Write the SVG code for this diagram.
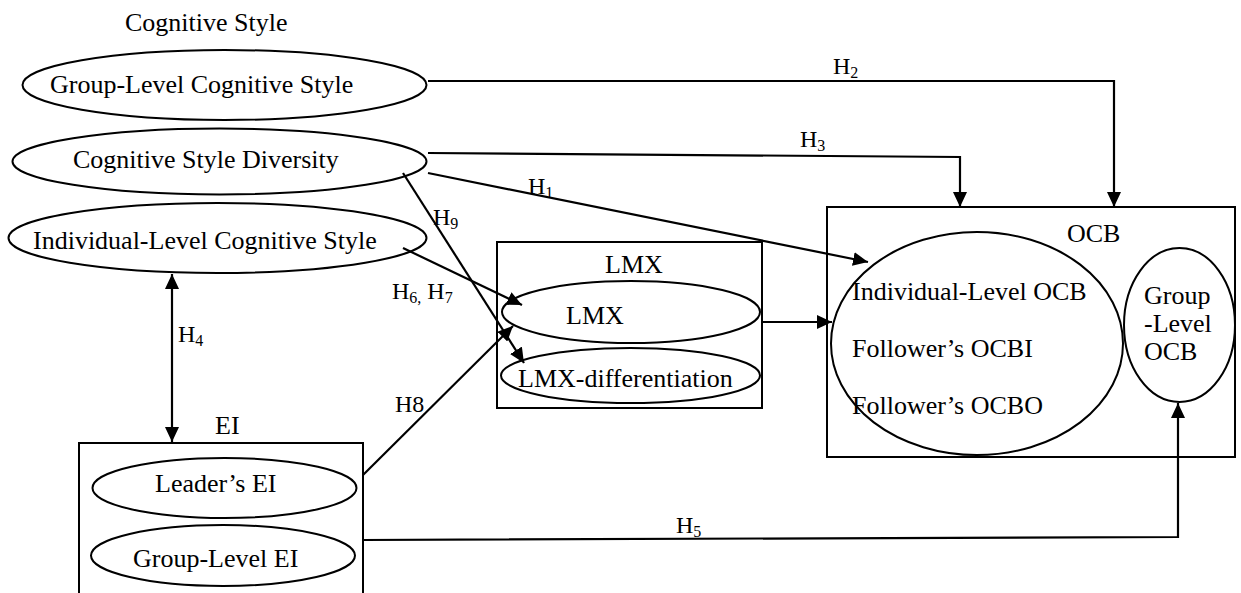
<svg xmlns="http://www.w3.org/2000/svg" width="1241" height="593" viewBox="0 0 1241 593">
  <style>
    .shape { fill: none; stroke: #000; stroke-width: 2; }
    .conn { fill: none; stroke: #000; stroke-width: 2.2; }
    text { font-family: "Liberation Serif", "Times New Roman", serif; font-size: 26px; fill: #000; }
    .lbl { font-size: 24px; }
    .sub { font-size: 16px; }
  </style>
  <defs>
    <marker id="arrow" markerUnits="userSpaceOnUse" markerWidth="16" markerHeight="14" refX="15" refY="7" orient="auto-start-reverse">
      <path d="M0,0 L15,7 L0,14 z" fill="#000"/>
    </marker>
  </defs>
  <rect width="1241" height="593" fill="#fff"/>

  <text x="125" y="31">Cognitive Style</text>

  <g id="group-level-cognitive-style">
    <ellipse class="shape" cx="224.5" cy="85" rx="202" ry="35"/>
    <text x="50" y="93">Group-Level Cognitive Style</text>
  </g>
  <g id="cognitive-style-diversity">
    <ellipse class="shape" cx="219.5" cy="161.5" rx="207" ry="33"/>
    <text x="73" y="168">Cognitive Style Diversity</text>
  </g>
  <g id="individual-level-cognitive-style">
    <ellipse class="shape" cx="217.5" cy="238" rx="209" ry="35"/>
    <text x="33" y="249">Individual-Level Cognitive Style</text>
  </g>

  <g id="ei">
    <polyline class="shape" points="79,593 79,443 363,443 363,593"/>
    <text x="215" y="434">EI</text>
    <ellipse class="shape" cx="224.5" cy="488" rx="132" ry="30"/>
    <text x="155" y="492">Leader’s EI</text>
    <ellipse class="shape" cx="223" cy="555.5" rx="132" ry="30.5"/>
    <text x="133" y="567">Group-Level EI</text>
  </g>

  <g id="lmx">
    <rect class="shape" x="497" y="242" width="265" height="166"/>
    <text x="605" y="273">LMX</text>
    <ellipse class="shape" cx="631" cy="312" rx="129" ry="31"/>
    <text x="566" y="324">LMX</text>
    <ellipse class="shape" cx="630.5" cy="375.5" rx="129.5" ry="27.5"/>
    <text x="518" y="387">LMX-differentiation</text>
  </g>

  <g id="ocb">
    <rect class="shape" x="827" y="207" width="408" height="250"/>
    <text x="1067" y="242">OCB</text>
    <ellipse class="shape" cx="977" cy="343.5" rx="146" ry="111.5"/>
    <text x="852" y="300">Individual-Level OCB</text>
    <text x="852" y="357">Follower’s OCBI</text>
    <text x="852" y="414">Follower’s OCBO</text>
    <ellipse class="shape" cx="1179.5" cy="325" rx="55.5" ry="77"/>
    <text x="1144" y="304" font-size="25">Group</text>
    <text x="1144" y="332" font-size="25">-Level</text>
    <text x="1144" y="360" font-size="25">OCB</text>
  </g>

  <g id="connectors">
    <!-- H2: group-level cognitive style to OCB -->
    <polyline class="conn" points="428,81 1114,81 1114,207" marker-end="url(#arrow)"/>
    <!-- H3: diversity to OCB -->
    <polyline class="conn" points="428,153 960,157 960,207" marker-end="url(#arrow)"/>
    <!-- H1: diversity to individual-level OCB -->
    <line class="conn" x1="428" y1="173" x2="868" y2="262" marker-end="url(#arrow)"/>
    <!-- H9: diversity to LMX-differentiation -->
    <line class="conn" x1="403" y1="173" x2="524" y2="363" marker-end="url(#arrow)"/>
    <!-- H6, H7: individual cognitive style to LMX -->
    <line class="conn" x1="403" y1="248" x2="522" y2="305" marker-end="url(#arrow)"/>
    <!-- H4: cognitive style and EI -->
    <line class="conn" x1="172" y1="274" x2="172" y2="442" marker-start="url(#arrow)" marker-end="url(#arrow)"/>
    <!-- H8: EI to LMX -->
    <line class="conn" x1="363" y1="475" x2="513" y2="326" marker-end="url(#arrow)"/>
    <!-- LMX to OCB -->
    <line class="conn" x1="762" y1="322" x2="832" y2="322" marker-end="url(#arrow)"/>
    <!-- H5: group-level EI to group-level OCB -->
    <polyline class="conn" points="363,540 1178,537 1178,403" marker-end="url(#arrow)"/>

    <text class="lbl" x="833" y="74">H<tspan class="sub" dy="4">2</tspan></text>
    <text class="lbl" x="800" y="147">H<tspan class="sub" dy="4">3</tspan></text>
    <text class="lbl" x="528" y="194">H<tspan class="sub" dy="4">1</tspan></text>
    <text class="lbl" x="433" y="225">H<tspan class="sub" dy="4">9</tspan></text>
    <text class="lbl" x="392" y="299">H<tspan class="sub" dy="4">6,</tspan><tspan dy="-4"> H</tspan><tspan class="sub" dy="4">7</tspan></text>
    <text class="lbl" x="178" y="342">H<tspan class="sub" dy="4">4</tspan></text>
    <text class="lbl" x="395" y="412">H8</text>
    <text class="lbl" x="676" y="533">H<tspan class="sub" dy="4">5</tspan></text>
  </g>
</svg>
